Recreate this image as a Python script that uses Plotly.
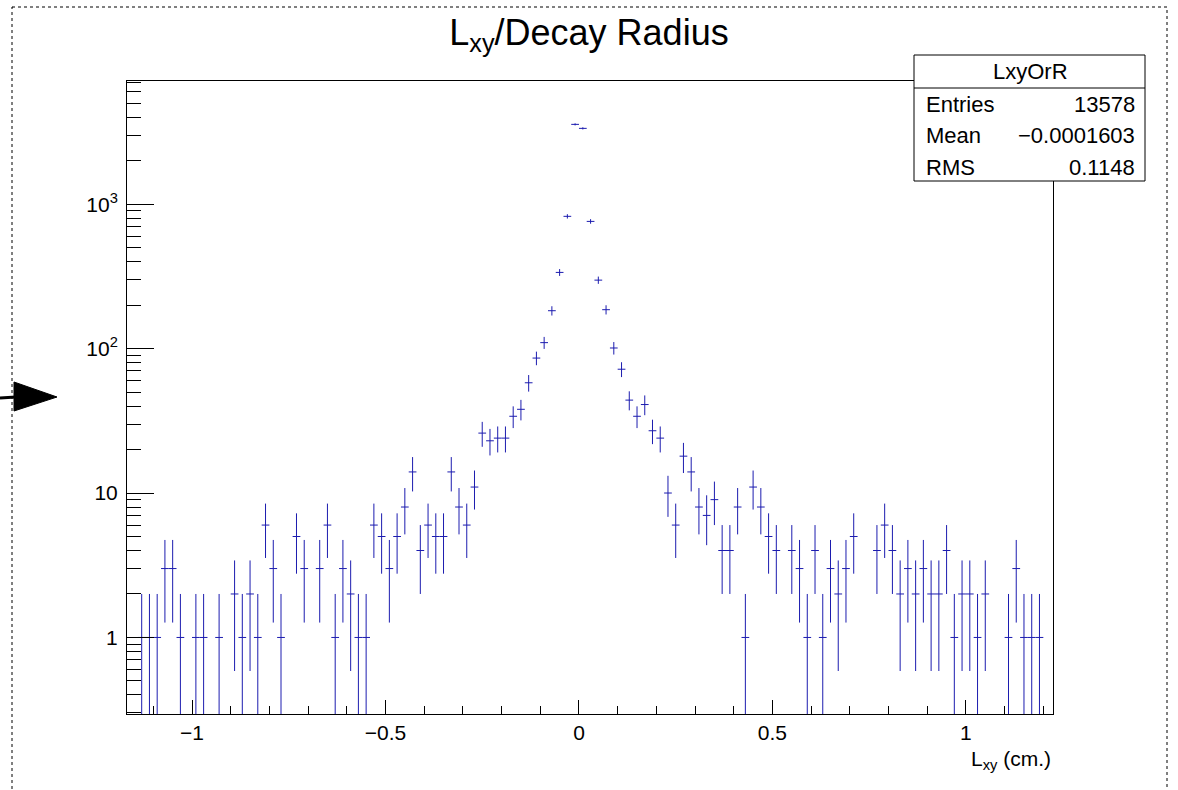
import numpy as np
import plotly.graph_objects as go

# ---------------- data ----------------
x_low = -1.14          # low edge of first filled bin
bin_width = 0.02
counts = [1, 1, 1, 3, 3, 1, 0, 1, 1, 0,
          1, 0, 2, 1, 2, 1, 6, 3, 1, 0,
          5, 3, 0, 3, 6, 1, 3, 2, 1, 1,
          6, 5, 3, 5, 8, 14, 4, 6, 5, 5,
          14, 8, 6, 11, 26, 23, 24, 24, 34, 38,
          58, 86, 110, 183, 337, 824, 3570, 3350, 760, 298,
          186, 101, 72, 44, 34, 41, 27, 24, 10, 6,
          18, 14, 8, 7, 9, 4, 4, 8, 1, 11,
          8, 5, 4, 0, 4, 3, 1, 4, 1, 3,
          2, 3, 5, 0, 0, 4, 6, 4, 2, 3,
          2, 3, 2, 2, 4, 1, 2, 2, 1, 2,
          0, 0, 1, 3, 1, 1, 1]

x_range = [-1.168, 1.225]
y_range_log = [-0.53, 3.853]
x_tick_vals = [-1, -0.5, 0, 0.5, 1]
x_tick_text = ["\u22121", "\u22120.5", "0", "0.5", "1"]
y_tick_vals = [1, 10, 100, 1000]
y_tick_text = ["1", "10", "10<sup>2</sup>", "10<sup>3</sup>"]
y_minor_vals = [m * 10 ** e for e in range(-1, 4) for m in range(2, 10)] + [0.3 * 1.0]
stats_title = "LxyOrR"
stats_rows = [("Entries", "13578"), ("Mean", "\u22120.0001603"), ("RMS", "0.1148")]
title_text = "L<sub>xy</sub>/Decay Radius"
x_title_text = "L<sub>xy</sub> (cm.)"

# ---------------- derived ----------------
counts = np.array(counts, dtype=float)
centers = x_low + bin_width * (np.arange(len(counts)) + 0.5)
mask = counts > 0
xc = centers[mask]
yc = counts[mask]
err = np.sqrt(yc)
err_up = err
err_dn = yc - np.maximum(yc - err, 1e-4)

W, H = 1178, 790
L, R, T, B = 127, 1053, 81, 714
FONT = "Liberation Sans, Arial, Helvetica, sans-serif"
BLUE = "rgb(28,28,175)"


def px(x):
    return (x - L) / (R - L)


def py(y):
    return (B - y) / (B - T)


fig = go.Figure()
fig.add_trace(go.Scatter(
    x=xc, y=yc, mode="markers",
    marker=dict(size=1, color="rgba(0,0,0,0)"),
    error_x=dict(type="constant", value=bin_width / 2, color=BLUE, thickness=1, width=0),
    error_y=dict(type="data", array=err_up, arrayminus=err_dn, symmetric=False,
                 color=BLUE, thickness=1, width=0),
    showlegend=False, hoverinfo="skip",
))

fig.update_xaxes(
    range=x_range, showgrid=False, zeroline=False,
    showline=True, linecolor="black", linewidth=1, mirror=True,
    ticks="inside", ticklen=14, tickcolor="black", tickwidth=1,
    tickmode="array", tickvals=x_tick_vals, ticktext=x_tick_text,
    tickfont=dict(family=FONT, size=21, color="black"),
    minor=dict(ticks="inside", ticklen=8, tickcolor="black", dtick=0.1, tick0=0, showgrid=False),
)
fig.update_yaxes(
    type="log", range=y_range_log, showgrid=False, zeroline=False,
    showline=True, linecolor="black", linewidth=1, mirror=True,
    ticks="inside", ticklen=27, tickcolor="black", tickwidth=1,
    tickmode="array", tickvals=y_tick_vals, ticktext=y_tick_text,
    tickfont=dict(family=FONT, size=21, color="black"),
    ticklabelstandoff=4,
    minor=dict(ticks="inside", ticklen=14, tickcolor="black", tickmode="array",
               tickvals=y_minor_vals, showgrid=False),
)

shapes = []
annotations = []

# canvas dashed border
shapes.append(dict(type="rect", xref="paper", yref="paper",
                   x0=px(12), x1=px(1167), y0=py(7), y1=py(800),
                   line=dict(color="black", width=1, dash="3px,3px"),
                   fillcolor="rgba(0,0,0,0)", layer="below"))

# stats box
shapes.append(dict(type="rect", xref="paper", yref="paper",
                   x0=px(914), x1=px(1145), y0=py(55), y1=py(181),
                   line=dict(color="black", width=1), fillcolor="white", layer="above"))
shapes.append(dict(type="line", xref="paper", yref="paper",
                   x0=px(914), x1=px(1145), y0=py(88), y1=py(88),
                   line=dict(color="black", width=1), layer="above"))
annotations.append(dict(xref="paper", yref="paper", x=px(1030), y=py(72), text=stats_title,
                        showarrow=False, xanchor="center", yanchor="middle",
                        font=dict(family=FONT, size=22, color="black")))
row_y = [104, 135, 167]
for (lab, val), yy in zip(stats_rows, row_y):
    annotations.append(dict(xref="paper", yref="paper", x=px(924), y=py(yy), text=lab,
                            showarrow=False, xanchor="left", yanchor="middle",
                            font=dict(family=FONT, size=22, color="black")))
    annotations.append(dict(xref="paper", yref="paper", x=px(1137), y=py(yy), text=val,
                            showarrow=False, xanchor="right", yanchor="middle",
                            font=dict(family=FONT, size=22, color="black")))

# x-axis title
annotations.append(dict(xref="paper", yref="paper", x=px(1053), y=py(760), text=x_title_text,
                        showarrow=False, xanchor="right", yanchor="middle",
                        font=dict(family=FONT, size=21, color="black")))

# arrow on the left
shapes.append(dict(type="line", xref="paper", yref="paper",
                   x0=px(0), x1=px(16), y0=py(398), y1=py(397),
                   line=dict(color="black", width=3)))
shapes.append(dict(type="path", xref="paper", yref="paper",
                   path="M {} {} L {} {} L {} {} Z".format(px(14), py(382), px(57), py(397), px(14), py(411)),
                   fillcolor="black", line=dict(color="black", width=1)))

fig.update_layout(
    width=W, height=H,
    margin=dict(l=L, r=W - R, t=T, b=H - B, pad=0),
    paper_bgcolor="white", plot_bgcolor="white",
    title=dict(text=title_text, x=0.5, xref="container", xanchor="center",
               y=1 - 32 / H, yref="container", yanchor="middle",
               font=dict(family=FONT, size=36, color="black")),
    shapes=shapes, annotations=annotations,
    font=dict(family=FONT, color="black"),
)

fig.write_html("out.html")
